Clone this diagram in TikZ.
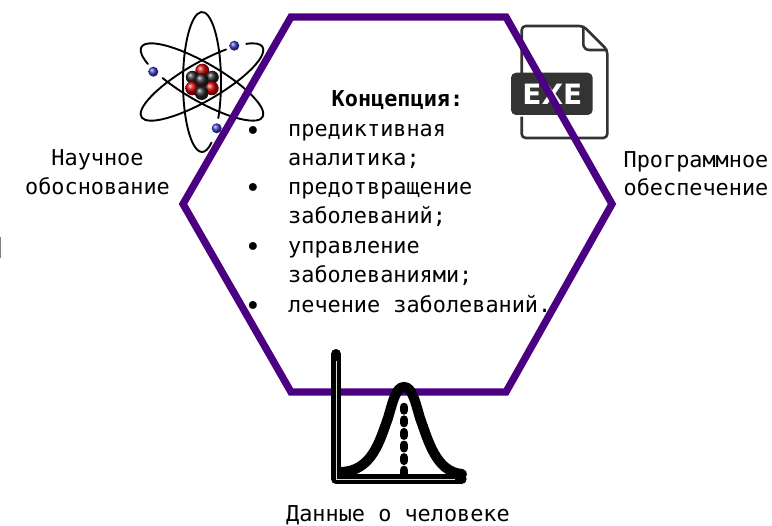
\documentclass[tikz,border=0pt]{standalone}
\usepackage{fontspec}
\setmainfont{DejaVu Sans}
\newfontfamily\monofont{DejaVu Sans Mono}
\usepackage{xcolor}
\definecolor{hexviolet}{HTML}{4B0082}
\definecolor{filegray}{HTML}{333333}
\tikzset{
    caption/.style={font=\monofont\fontsize{21.85}{28.5}\selectfont, align=center, inner sep=0pt},
    item/.style={font=\monofont\fontsize{21.85}{29.3}\selectfont, align=left, anchor=north west, inner sep=0pt},
    bullet/.style={font=\monofont\fontsize{27}{29.3}\selectfont, inner sep=0pt},
    orbit/.style={line width=1.9pt, line cap=round},
    redball/.style={ball color=red!80!black},
    darkball/.style={ball color=black!85},
    electron/.style={ball color=blue!55!gray}
}

\begin{document}
\begin{tikzpicture}[x=1pt, y=1pt]
        \useasboundingbox (0,0) rectangle (772,526);

        % Atom
        \draw[orbit] (202,444) ++(-31:19 and 70) arc[start angle=-31, end angle=300, x radius=19, y radius=70];
        \begin{scope}[shift={(202,444)}, rotate=30]
            \draw[orbit] (58:70 and 19) arc[start angle=58, end angle=395, x radius=70, y radius=19];
        \end{scope}
        \begin{scope}[shift={(202,444)}, rotate=-30]
            \draw[orbit] (239:70 and 19) arc[start angle=239, end angle=577, x radius=70, y radius=19];
        \end{scope}
        \shade[electron] (234.3,480.3) circle (5);
        \shade[electron] (153.3,454.3) circle (5);
        \shade[electron] (216.7,397.7) circle (5);
        % Nucleus
        \shade[redball] (202.3,455.3) circle (7);
        \shade[darkball] (192.3,448.7) circle (6.5);
        \shade[darkball] (212.3,448.7) circle (6.5);
        \shade[redball] (192.3,437.7) circle (7);
        \shade[redball] (211.7,437.7) circle (7);
        \shade[darkball] (201.7,433) circle (7);
        \shade[darkball] (201.7,445.7) circle (7);

        % File icon
        \draw[filegray, line width=2.6pt, line join=round, rounded corners=4pt] (521.7,453) -- (521.7,500) -- (583.3,500) -- (607.3,476) -- (607.3,388) -- (521.7,388) -- (521.7,409.3);
        \draw[filegray, line width=2.6pt, rounded corners=6pt] (583.3,500) -- (583.3,476) -- (607.3,476);
        \fill[filegray, rounded corners=5pt] (511,411) rectangle (592.7,453.3);
        \node[font=\bfseries\fontsize{28}{28}\selectfont, white, inner sep=0pt] (exe) at (552.3,431.5) {EXE};

        % Hexagon
        \draw[hexviolet, line width=7.3pt] (291,509) -- (506,509) -- (612,322) -- (506,134) -- (291,134) -- (183,322) -- cycle;

        % Normal curve
        \draw[line width=10pt, line join=round, line cap=round] (336,172) -- (336,46.7) -- (461.7,46.7);
        \draw[line width=10pt, line cap=round] (340,54) .. controls (372,54) and (380,86) .. (388,108) .. controls (393,125) and (396,139) .. (404,139) .. controls (412,139) and (415,125) .. (420,108) .. controls (428,86) and (436,54) .. (462,52);
        \draw[line width=8.5pt, line cap=round, dash pattern=on 3.5pt off 9.1pt] (404,119) -- (404,50);
        \draw[gray!30, line width=0.4pt] (336,165) -- (336,46.7) -- (455,46.7);

        % Captions
        \node[caption] (science) at (97.5,354) {Научное\\обоснование};
        \node[caption] (software) at (696,352.5) {Программное\\обеспечение};
        \node[caption] (data) at (398,11) {Данные о человеке};

        % Concept list
        \node[caption, font=\monofont\bfseries\fontsize{21.85}{28}\selectfont] (concept) at (397.5,426) {Концепция:};
        \node[bullet] (b1) at (253,392) {•};
        \node[item] (i1) at (288,402) {предиктивная\\аналитика;};
        \node[bullet] (b2) at (253,335) {•};
        \node[item] (i2) at (288,344) {предотвращение\\заболеваний;};
        \node[bullet] (b3) at (253,276) {•};
        \node[item] (i3) at (288,285) {управление\\заболеваниями;};
        \node[bullet] (b4) at (253,217) {•};
        \node[item] (i4) at (288,231) {лечение заболеваний.};

        % Edge mark
        \draw[gray, line width=1pt] (0.5,268) -- (0.5,289);
    \end{tikzpicture}
\end{document}
